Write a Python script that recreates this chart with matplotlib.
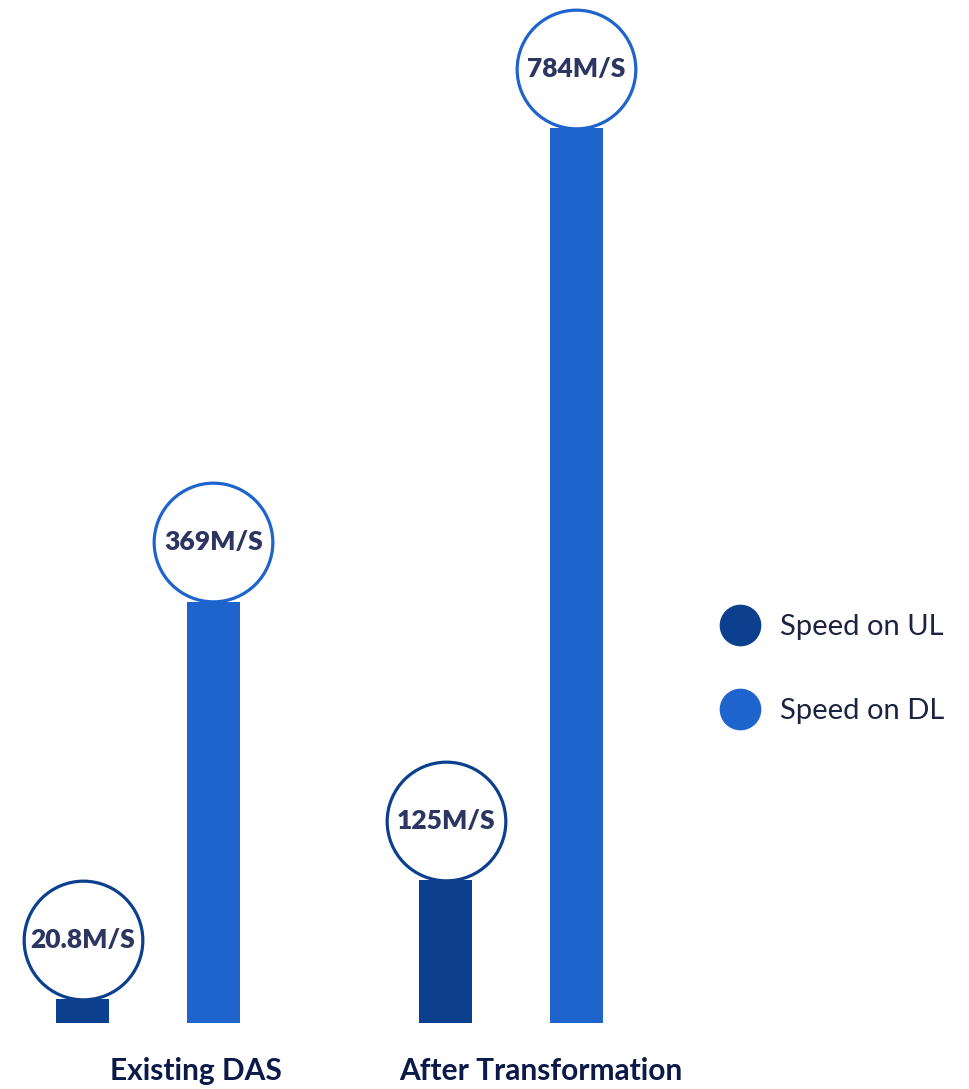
import numpy as np
import matplotlib
matplotlib.use('Agg')
import matplotlib.pyplot as plt
from matplotlib.lines import Line2D

# ---- data ----
categories = ["Existing DAS", "After Transformation"]
series_names = ["Speed on UL", "Speed on DL"]
speed_ul = [20.8, 125]
speed_dl = [369, 784]
labels_ul = ["20.8M/S", "125M/S"]
labels_dl = ["369M/S", "784M/S"]

# ---- style ----
col_ul = '#0c408f'
col_dl = '#1f63cc'
txt_col = '#2d3561'
cat_col = '#0b1a48'
plt.rcParams['font.family'] = ['Lato', 'DejaVu Sans']

fig = plt.figure(figsize=(9.69, 10.89), dpi=100)
ax = fig.add_axes([0, 66 / 1089, 1, 1023 / 1089])
ax.set_xlim(-0.408, 2.262)
ax.set_ylim(0, 896)
ax.axis('off')

x = np.arange(len(categories))
w = 0.146
off = 0.18

ax.bar(x - off, speed_ul, width=w, color=col_ul, zorder=2)
ax.bar(x + off, speed_dl, width=w, color=col_dl, zorder=2)

# value bubbles sitting on top of each bar
r = 52  # bubble radius in data units (y)
for xs, vals, labs, c in [(x - off, speed_ul, labels_ul, col_ul),
                          (x + off, speed_dl, labels_dl, col_dl)]:
    ys = np.array(vals) + r
    ax.scatter(xs, ys, s=7300, facecolor='white', edgecolor=c, linewidth=2.3, zorder=3)
    for xi, yi, t in zip(xs, ys, labs):
        ax.text(xi, yi, t, ha='center', va='center', fontsize=19, fontweight='heavy',
                color=txt_col, zorder=4)

# category labels below the bars
cat_pos = [x[0] + 0.132, x[1] + 0.083]
for xp, name in zip(cat_pos, categories):
    ax.text(xp, -30, name, ha='center', va='top', fontsize=21.5, fontweight='bold',
            color=cat_col, clip_on=False)

handles = [Line2D([], [], marker='o', linestyle='', markersize=29, color=c)
           for c in (col_ul, col_dl)]
fig.legend(handles, series_names, loc='center left', bbox_to_anchor=(0.743, 0.3857),
           frameon=False, fontsize=21, labelcolor='#1c2340', handlelength=1.37,
           handletextpad=0.69, labelspacing=2.0, borderpad=0, borderaxespad=0)

plt.savefig('out.png', dpi=100, facecolor='white')
